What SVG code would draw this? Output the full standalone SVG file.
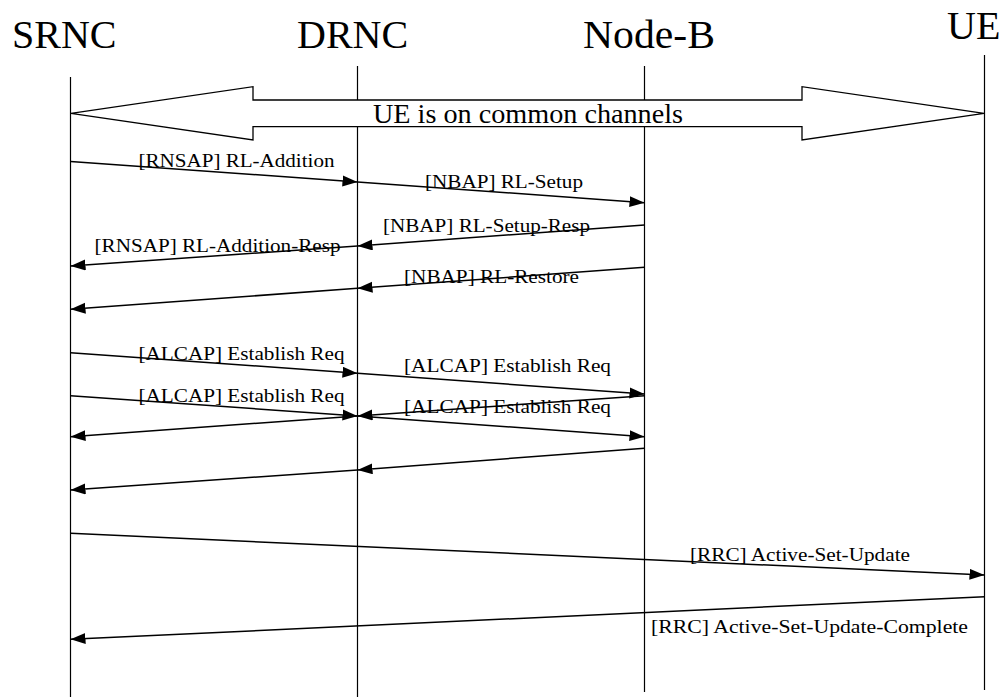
<svg xmlns="http://www.w3.org/2000/svg" width="1005" height="697" viewBox="0 0 1005 697">
<style>
text{font-family:'Liberation Serif',Tinos,'Times New Roman',Times,serif;fill:#000}
.title{font-size:40px}
.lbl{font-size:19px}
.big{font-size:28px}
.life{stroke:#000;stroke-width:1.2;fill:none}
.msg{stroke:#000;stroke-width:1.5;fill:none;marker-end:url(#ah)}
</style>
<defs>
<marker id="ah" markerUnits="userSpaceOnUse" markerWidth="16" markerHeight="12" refX="15" refY="5.5" orient="auto">
<path d="M0,0 L15,5.5 L0,11 Z" fill="#000"/>
</marker>
</defs>
<rect width="1005" height="697" fill="#fff"/>
<g id="node-srnc">
<line class="life" x1="70.5" y1="77" x2="70.5" y2="697"/>
<text class="title" x="12" y="48" font-family="Liberation Serif">SRNC</text>
</g>
<g id="node-drnc">
<line class="life" x1="357.5" y1="66" x2="357.5" y2="697"/>
<text class="title" x="297" y="48" font-family="Liberation Serif">DRNC</text>
</g>
<g id="node-nodeb">
<line class="life" x1="644.5" y1="66" x2="644.5" y2="692"/>
<text class="title" x="583" y="48" font-family="Liberation Serif" textLength="132" lengthAdjust="spacingAndGlyphs">Node-B</text>
</g>
<g id="node-ue">
<line class="life" x1="984.5" y1="55" x2="984.5" y2="690"/>
<text class="title" x="947" y="39" font-family="Liberation Serif">UE</text>
</g>
<g id="common-channels">
<path d="M71,113.3 L253,86.7 L253,100 L802,100 L802,86.7 L984,113.3 L802,140 L802,126.7 L253,126.7 L253,140 Z" fill="#fff" stroke="#000" stroke-width="1.3"/>
<text class="big" x="373" y="123" font-family="Liberation Serif" textLength="310" lengthAdjust="spacingAndGlyphs">UE is on common channels</text>
</g>
<g id="connectors">
<line class="msg" x1="70.5" y1="161.5" x2="357.5" y2="182"/>
<line class="msg" x1="357.5" y1="182" x2="644.5" y2="202.7"/>
<line class="msg" x1="644.5" y1="225" x2="357.5" y2="246"/>
<line class="msg" x1="357.5" y1="246" x2="70.5" y2="266"/>
<line class="msg" x1="644.5" y1="267.3" x2="357.5" y2="288.3"/>
<line class="msg" x1="357.5" y1="288.3" x2="70.5" y2="309.3"/>
<line class="msg" x1="70.5" y1="352.7" x2="357.5" y2="373.3"/>
<line class="msg" x1="357.5" y1="373.3" x2="644.5" y2="394"/>
<line class="msg" x1="70.5" y1="395.7" x2="357.5" y2="416"/>
<line class="msg" x1="644.5" y1="395.7" x2="357.5" y2="416"/>
<line class="msg" x1="357.5" y1="416" x2="70.5" y2="436.7"/>
<line class="msg" x1="357.5" y1="416" x2="644.5" y2="436.7"/>
<line class="msg" x1="644.5" y1="448.3" x2="357.5" y2="470"/>
<line class="msg" x1="357.5" y1="470" x2="70.5" y2="490"/>
<line class="msg" x1="70.5" y1="533.3" x2="984.5" y2="575"/>
<line class="msg" x1="984.5" y1="596.7" x2="70.5" y2="639.3"/>
</g>
<g id="labels" font-family="Liberation Serif">
<text class="lbl" x="138.5" y="166.5" textLength="196" lengthAdjust="spacingAndGlyphs">[RNSAP] RL-Addition</text>
<text class="lbl" x="425" y="188.3" textLength="158" lengthAdjust="spacingAndGlyphs">[NBAP] RL-Setup</text>
<text class="lbl" x="383" y="231.7" textLength="207" lengthAdjust="spacingAndGlyphs">[NBAP] RL-Setup-Resp</text>
<text class="lbl" x="94.5" y="251.7" textLength="246" lengthAdjust="spacingAndGlyphs">[RNSAP] RL-Addition-Resp</text>
<text class="lbl" x="404" y="283.3" textLength="175" lengthAdjust="spacingAndGlyphs">[NBAP] RL-Restore</text>
<text class="lbl" x="138.5" y="360" textLength="206" lengthAdjust="spacingAndGlyphs">[ALCAP] Establish Req</text>
<text class="lbl" x="404" y="371.7" textLength="207" lengthAdjust="spacingAndGlyphs">[ALCAP] Establish Req</text>
<text class="lbl" x="138.5" y="401.7" textLength="206" lengthAdjust="spacingAndGlyphs">[ALCAP] Establish Req</text>
<text class="lbl" x="404" y="413.3" textLength="207" lengthAdjust="spacingAndGlyphs">[ALCAP] Establish Req</text>
<text class="lbl" x="690" y="560.7" textLength="220" lengthAdjust="spacingAndGlyphs">[RRC] Active-Set-Update</text>
<text class="lbl" x="651" y="633.3" textLength="317" lengthAdjust="spacingAndGlyphs">[RRC] Active-Set-Update-Complete</text>
</g>
</svg>
